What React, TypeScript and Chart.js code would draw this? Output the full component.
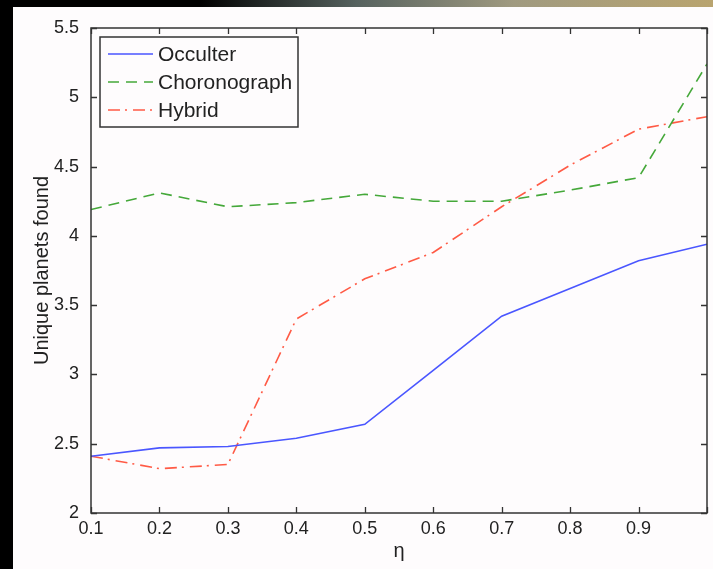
import React, { useEffect, useRef } from 'react';
import { Chart, registerables } from 'chart.js';

Chart.register(...registerables);

// ---- data ----
const etaValues = [0.1, 0.2, 0.3, 0.4, 0.5, 0.6, 0.7, 0.8, 0.9, 1.0];
const occulter = [2.41, 2.47, 2.48, 2.54, 2.64, 3.03, 3.42, 3.62, 3.82, 3.94];
const choronograph = [4.19, 4.31, 4.21, 4.24, 4.30, 4.25, 4.25, 4.33, 4.42, 5.24];
const hybrid = [2.41, 2.32, 2.35, 3.40, 3.69, 3.88, 4.21, 4.51, 4.77, 4.86];
const seriesLabels = ['Occulter', 'Choronograph', 'Hybrid'];
const xTitle = 'η';
const yTitle = 'Unique planets found';

const FONT = '"Liberation Sans", Arial, Helvetica, sans-serif';

const bgPlugin = {
  id: 'bgPlugin',
  beforeDraw(chart: any) {
    const { ctx, width, height } = chart;
    ctx.save();
    ctx.fillStyle = '#000';
    ctx.fillRect(0, 0, width, height);
    const g = ctx.createLinearGradient(0, 0, width, 0);
    g.addColorStop(0, '#000');
    g.addColorStop(0.28, '#000');
    g.addColorStop(0.5, '#56625f');
    g.addColorStop(0.72, '#a09a80');
    g.addColorStop(1, '#b9a46f');
    ctx.fillStyle = g;
    ctx.fillRect(0, 0, width, 7);
    ctx.fillStyle = '#fefcfd';
    ctx.fillRect(13, 7, width - 13, height - 7);
    ctx.restore();
  },
};

const framePlugin = {
  id: 'framePlugin',
  afterDatasetsDraw(chart: any) {
    const { ctx, chartArea, scales } = chart;
    const { left, right, top, bottom } = chartArea;
    const xs = scales.x;
    const ys = scales.y;
    ctx.save();
    ctx.strokeStyle = '#333';
    ctx.lineWidth = 1.5;
    ctx.strokeRect(left, top, right - left, bottom - top);
    ctx.lineWidth = 1.3;
    const tl = 6;
    ctx.beginPath();
    xs.ticks.forEach((t: any) => {
      const px = Math.round(xs.getPixelForValue(t.value)) + 0.5;
      ctx.moveTo(px, bottom);
      ctx.lineTo(px, bottom - tl);
      ctx.moveTo(px, top);
      ctx.lineTo(px, top + tl);
    });
    ys.ticks.forEach((t: any) => {
      const py = Math.round(ys.getPixelForValue(t.value)) + 0.5;
      ctx.moveTo(left, py);
      ctx.lineTo(left + tl, py);
      ctx.moveTo(right, py);
      ctx.lineTo(right - tl, py);
    });
    ctx.stroke();
    ctx.restore();
  },
};

const legendPlugin = {
  id: 'boxLegend',
  afterDraw(chart: any) {
    const { ctx, chartArea } = chart;
    const bx = chartArea.left + 9;
    const by = chartArea.top + 9;
    const bw = 198;
    const bh = 90;
    ctx.save();
    ctx.fillStyle = '#fefcfd';
    ctx.fillRect(bx, by, bw, bh);
    ctx.strokeStyle = '#333';
    ctx.lineWidth = 1.5;
    ctx.strokeRect(bx, by, bw, bh);
    ctx.font = `21px ${FONT}`;
    ctx.textBaseline = 'middle';
    ctx.textAlign = 'left';
    chart.data.datasets.forEach((ds: any, i: number) => {
      const ry = by + 17 + i * 28;
      ctx.strokeStyle = ds.borderColor;
      ctx.lineWidth = ds.borderWidth;
      ctx.setLineDash(ds.borderDash || []);
      ctx.beginPath();
      ctx.moveTo(bx + 8, ry);
      ctx.lineTo(bx + 53, ry);
      ctx.stroke();
      ctx.setLineDash([]);
      ctx.fillStyle = '#222';
      ctx.fillText(ds.label, bx + 58, ry + 1);
    });
    ctx.restore();
  },
};

export default function App() {
  const ref = useRef<HTMLCanvasElement>(null);

  useEffect(() => {
    if (!ref.current) return;
    const mk = (vals: number[]) => etaValues.map((x, i) => ({ x, y: vals[i] }));
    const chart = new Chart(ref.current, {
      type: 'line',
      data: {
        datasets: [
          {
            label: seriesLabels[0],
            data: mk(occulter),
            borderColor: '#4a56ff',
            borderWidth: 1.6,
            pointRadius: 0,
            fill: false,
            tension: 0,
          },
          {
            label: seriesLabels[1],
            data: mk(choronograph),
            borderColor: '#45a83a',
            borderWidth: 1.6,
            borderDash: [11, 7],
            pointRadius: 0,
            fill: false,
            tension: 0,
          },
          {
            label: seriesLabels[2],
            data: mk(hybrid),
            borderColor: '#ff5a45',
            borderWidth: 1.6,
            borderDash: [12, 5, 2, 6],
            pointRadius: 0,
            fill: false,
            tension: 0,
          },
        ],
      },
      options: {
        responsive: false,
        animation: false,
        devicePixelRatio: 1,
        layout: { padding: { top: 28, right: 6, left: 0, bottom: 0 } },
        plugins: {
          legend: { display: false },
          tooltip: { enabled: false },
        },
        scales: {
          x: {
            type: 'linear',
            min: 0.1,
            max: 1.0,
            grid: { display: false },
            border: { display: false },
            ticks: {
              stepSize: 0.1,
              padding: -3,
              color: '#222',
              font: { family: FONT, size: 18 },
              maxRotation: 0,
              autoSkip: false,
              callback: (v: any) => (Number(v) > 0.95 ? '' : Number(v).toFixed(1)),
            },
            title: {
              display: true,
              text: xTitle,
              color: '#222',
              font: { family: FONT, size: 20 },
              padding: { top: 0, bottom: 6 },
            },
            afterFit: (s: any) => {
              s.height = 56;
            },
          },
          y: {
            type: 'linear',
            min: 2,
            max: 5.5,
            grid: { display: false },
            border: { display: false },
            ticks: {
              stepSize: 0.5,
              padding: 4,
              color: '#222',
              font: { family: FONT, size: 18 },
              autoSkip: false,
              callback: (v: any) => {
                const n = Number(v);
                return Math.abs(n - Math.round(n)) < 1e-9 ? String(Math.round(n)) : n.toFixed(1);
              },
            },
            title: {
              display: true,
              text: yTitle,
              color: '#222',
              font: { family: FONT, size: 20 },
              padding: { top: 30, bottom: 0 },
            },
            afterFit: (s: any) => {
              s.width = 91;
            },
          },
        },
      },
      plugins: [bgPlugin, framePlugin, legendPlugin],
    });
    return () => chart.destroy();
  }, []);

  return (
    <div style={{ position: 'fixed', left: 0, top: 0, width: 713, height: 569, background: '#000' }}>
      <canvas ref={ref} width={713} height={569} style={{ display: 'block', width: 713, height: 569 }} />
    </div>
  );
}
